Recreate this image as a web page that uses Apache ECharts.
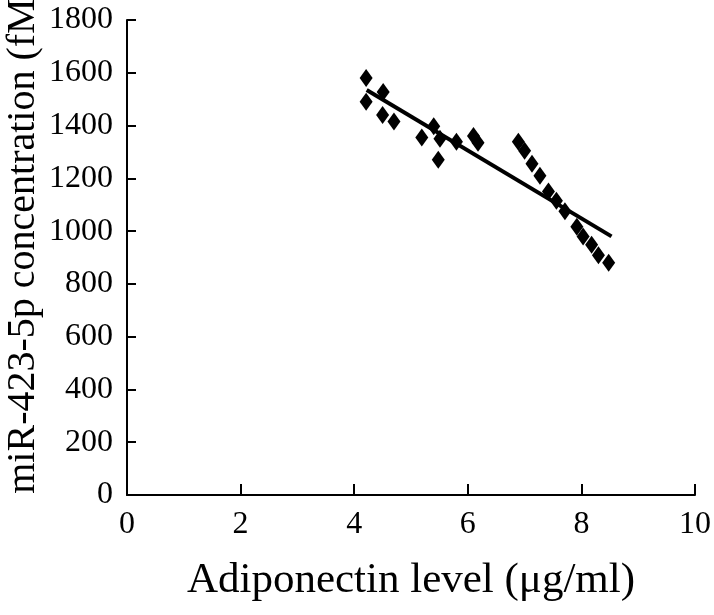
<!DOCTYPE html>
<html>
<head>
<meta charset="UTF-8">
<title></title>
<script src="https://cdn.jsdelivr.net/npm/echarts@6/dist/echarts.min.js"></script>
<style>
  html, body { margin: 0; padding: 0; background: #fff; }
  #main { width: 714px; height: 615px; }
</style>
</head>
<body>
<div id="main"></div>
<script>
// adiponectin level (x) vs miR-423-5p concentration (y)
var adiponectin = [4.21, 4.21, 4.51, 4.50, 4.70, 5.19, 5.40, 5.51, 5.48, 5.80, 6.10, 6.18,
                   6.89, 7.00, 7.13, 7.27, 7.42, 7.56, 7.71, 7.92, 8.03, 8.18, 8.30, 8.48];
var mirConc = [1580, 1490, 1527, 1440, 1415, 1355, 1397, 1350, 1270, 1339, 1360, 1335,
               1339, 1305, 1255, 1210, 1150, 1115, 1075, 1017, 980, 948, 909, 880];
// fitted line ends
var trendX = [4.22, 8.53];
var trendY = [1535, 980];

var xTicks = [0, 2, 4, 6, 8, 10];
var yTicks = [0, 200, 400, 600, 800, 1000, 1200, 1400, 1600, 1800];

var points = [];
for (var i = 0; i < adiponectin.length; i++) {
  points.push([adiponectin[i], mirConc[i]]);
}
var trend = [];
for (var j = 0; j < trendX.length; j++) {
  trend.push([trendX[j], trendY[j]]);
}

var font = '"Liberation Serif", "DejaVu Serif", serif';

var myChart = echarts.init(document.getElementById('main'));
var option = {
  backgroundColor: '#fff',
  animation: false,
  grid: { left: 127, right: 19, top: 20, bottom: 120 },
  xAxis: {
    type: 'value',
    min: xTicks[0],
    max: xTicks[xTicks.length - 1],
    interval: 2,
    name: 'Adiponectin level (\u03bcg/ml)',
    nameLocation: 'middle',
    nameGap: 64,
    nameTextStyle: { fontFamily: font, fontSize: 43, color: '#000' },
    axisLine: { lineStyle: { color: '#000', width: 2 } },
    axisTick: { inside: true, length: 11, lineStyle: { color: '#000', width: 2 } },
    axisLabel: { fontFamily: font, fontSize: 32, color: '#000', margin: 14 },
    splitLine: { show: false }
  },
  yAxis: {
    type: 'value',
    min: yTicks[0],
    max: yTicks[yTicks.length - 1],
    interval: 200,
    axisLine: { lineStyle: { color: '#000', width: 2 } },
    axisTick: { inside: true, length: 9, lineStyle: { color: '#000', width: 2 } },
    axisLabel: {
      fontFamily: font, fontSize: 32, color: '#000', margin: 14,
      formatter: function (v) { return String(v); }
    },
    splitLine: { show: false }
  },
  graphic: [{
    type: 'text',
    left: 3,
    top: -15,
    rotation: Math.PI / 2,
    style: {
      text: 'miR-423-5p concentration (fM)',
      fontFamily: font,
      fontSize: 40,
      fill: '#000'
    }
  }],
  series: [
    {
      type: 'line',
      data: trend,
      symbol: 'none',
      lineStyle: { color: '#000', width: 4 },
      z: 2
    },
    {
      type: 'scatter',
      data: points,
      symbol: 'diamond',
      symbolSize: [13, 18],
      itemStyle: { color: '#000', opacity: 1 },
      z: 3
    }
  ]
};
myChart.setOption(option);
</script>
</body>
</html>
